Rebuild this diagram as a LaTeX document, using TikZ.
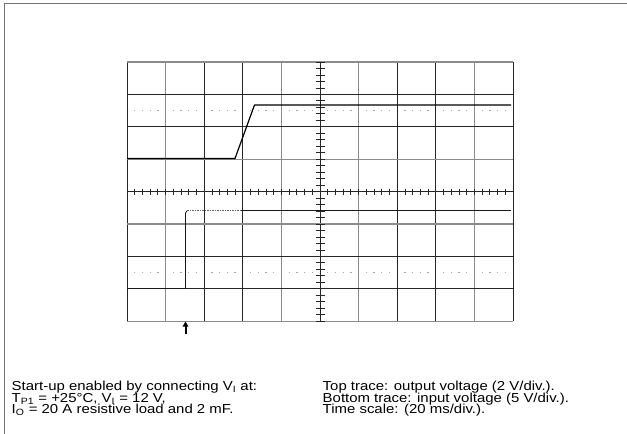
\documentclass[tikz,border=0pt]{standalone}
\usepackage{fontspec}
\setmainfont{Liberation Sans}
\usetikzlibrary{arrows.meta}
\tikzset{
  frameline/.style={draw=black!55, line width=1pt},
  gdk/.style={draw=black!85, line width=0.9pt},
  glt/.style={draw=black!45, line width=1.1pt},
  tickmark/.style={draw=black!85, line width=0.8pt},
  dotmark/.style={fill=black!35},
  trace/.style={draw=black, line width=1.2pt, line join=round},
  tracethin/.style={draw=black!90, line width=0.8pt},
  tracedash/.style={draw=black!60, line width=0.8pt, dash pattern=on 1.5pt off 1pt},
  marker/.style={draw=black, line width=2pt, -{Triangle[length=5pt,width=5.5pt]}},
  caption/.style={anchor=base west, inner sep=0pt, xscale=1.15, transform shape, font=\fontsize{13}{13}\selectfont}
}
\begin{document}
\begin{tikzpicture}[x=1pt,y=-1pt]
\useasboundingbox (0,0) rectangle (627,434);
\fill[white] (0,0) rectangle (627,434);
% partial outer frame
\draw[frameline] (4,434) -- (4,3.5) -- (627,3.5);
% grid
\foreach \i/\s in {0/gdk,1/glt,2/gdk,3/gdk,4/glt,5/gdk,6/glt,7/gdk,8/gdk,9/glt,10/gdk}
  \draw[\s] ({127+38.6*\i},62) -- ({127+38.6*\i},321.2);
\foreach \j/\s in {0/glt,1/gdk,2/gdk,3/glt,4/gdk,5/glt,6/gdk,7/gdk,8/glt}
  \draw[\s] (127,{62+32.4*\j}) -- (513,{62+32.4*\j});
% axis ticks
\foreach \k in {0,...,40}
  \draw[tickmark] (315.5,{62+6.48*\k}) -- (324.5,{62+6.48*\k});
\foreach \k in {0,...,50}
  \draw[tickmark] ({127+7.72*\k},188.6) -- ({127+7.72*\k},194.6);
% dotted reference rows
\foreach \yy in {110.6,272.2}
  \foreach \i in {0,...,9}
    \foreach \k in {1,...,4}
      \fill[dotmark] ({127+38.6*\i+7.72*\k-0.6},{\yy-0.6}) rectangle +(1.3,1.3);
% top trace (output voltage)
\coordinate (t0) at (127,158.5);
\coordinate (t1) at (235,158.5);
\coordinate (t2) at (254.5,105);
\coordinate (t3) at (511,105);
\draw[trace] (t0) -- (t1) -- (t2) -- (t3);
% bottom trace (input voltage)
\coordinate (b0) at (127,288.5);
\coordinate (b1) at (185.5,288.5);
\coordinate (b2) at (185.5,213);
\coordinate (b3) at (187,210.8);
\coordinate (b4) at (241,210.8);
\coordinate (b5) at (511,210.8);
\draw[tracethin] (b0) -- (b1) -- (b2) -- (b3);
\draw[tracedash] (b3) -- (b4);
\draw[tracethin] (b4) -- (b5);
% trigger marker
\coordinate (m0) at (185.5,334);
\coordinate (m1) at (185.5,321.5);
\draw[marker] (m0) -- (m1);
% captions
\node[caption] (l1) at (11.5,390.5) {Start-up enabled by connecting V\textsubscript{I} at:};
\node[caption] (l2) at (11.5,402) {T\textsubscript{P1} = +25°C, V\textsubscript{I} = 12 V,};
\node[caption] (l3) at (11.5,413.5) {I\textsubscript{O} = 20 A resistive load and 2 mF.};
\node[caption] (r1) at (322.5,390.5) {Top trace: output voltage (2 V/div.).};
\node[caption] (r2) at (322.5,402) {Bottom trace: input voltage (5 V/div.).};
\node[caption] (r3) at (322.5,413.5) {Time scale: (20 ms/div.).};
\end{tikzpicture}
\end{document}
